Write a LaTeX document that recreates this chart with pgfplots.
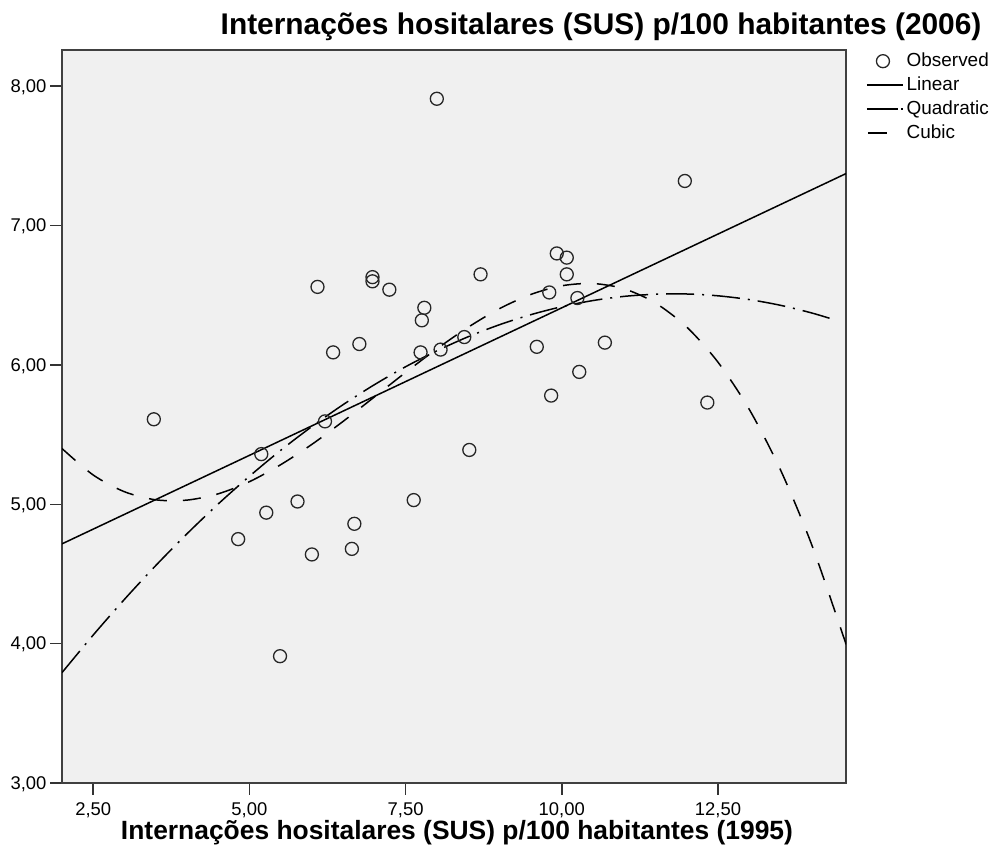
\documentclass[border=0pt]{standalone}
\usepackage{pgfplots}
\pgfplotsset{compat=1.18}
\usepackage{fontspec}
\setmainfont{Liberation Sans}
\definecolor{plotbg}{HTML}{F0F0F0}
\pgfplotsset{
 obsleg/.style={legend image code/.code={\draw[##1] plot coordinates {(16bp,0bp)};}},
 linleg/.style={legend image code/.code={\draw[##1] (0bp,0bp) -- (36bp,0bp);}},
 quadleg/.style={legend image code/.code={\draw[##1, dash pattern=on 31bp off 3bp on 2bp off 20bp] (0bp,0bp) -- (36bp,0bp);}},
 cubleg/.style={legend image code/.code={\draw[##1, solid] (1bp,0bp) -- (20bp,0bp);}},
}
\begin{document}
\begin{tikzpicture}[x=1bp,y=1bp]
\path[use as bounding box] (0,0) rectangle (997,865);
\begin{axis}[
 at={(62bp,82bp)}, anchor=south west,
 scale only axis, width=784bp, height=733bp,
 xmin=2, xmax=14.55, ymin=3, ymax=8.26,
 xtick={2.5,5,7.5,10,12.5}, ytick={3,4,5,6,7,8},
 xtick pos=left, ytick pos=left,
 tick align=outside, major tick length=12bp,
 tick style={black!80, line width=1.5bp},
 axis line style={black!75, line width=1.3bp},
 axis background/.style={fill=plotbg},
 xticklabel style={yshift=-4bp, /pgf/number format/.cd, fixed, fixed zerofill, precision=2, use comma, assume math mode=true},
 yticklabel style={yshift=-1bp, /pgf/number format/.cd, fixed, fixed zerofill, precision=2, use comma, assume math mode=true},
 tick label style={font=\fontsize{18.5}{20}\selectfont},
 legend style={at={(1,1)}, anchor=north west, xshift=20bp, yshift=-1bp, draw=none, fill=none, inner sep=0pt,
   font=\fontsize{19}{21}\selectfont, row sep=4bp, column sep=2bp,
   nodes={inner sep=1bp, text height=14bp, text depth=4bp}},
 legend cell align=left,
]
\addplot[only marks, mark=o, mark size=6.5bp, black!85, line width=1.3bp, obsleg] coordinates {
(3.47,5.61) (4.82,4.75) (5.19,5.36) (5.27,4.94) (5.49,3.91) (5.77,5.02)
(6.00,4.64) (6.09,6.56) (6.21,5.595) (6.34,6.09) (6.64,4.68) (6.68,4.86)
(6.76,6.15) (6.97,6.63) (6.97,6.60) (7.24,6.54) (7.63,5.03) (7.74,6.09)
(7.76,6.32) (7.80,6.41) (8.00,7.91) (8.06,6.11) (8.44,6.20) (8.52,5.39)
(8.70,6.65) (9.60,6.13) (9.80,6.52) (9.83,5.78) (9.92,6.80) (10.08,6.77)
(10.08,6.65) (10.25,6.48) (10.28,5.95) (10.69,6.16) (11.97,7.32) (12.33,5.73)
};
\addlegendentry{Observed}
\addplot[black, line width=1.5bp, linleg] coordinates {
(2.0,4.716) (14.55,7.373)
};
\addlegendentry{Linear}
\addplot[black, line width=1.5bp, smooth, dash pattern=on 28bp off 8bp on 2bp off 8bp, quadleg] coordinates {
(2.0,3.792) (2.5,4.062) (3.0,4.318) (3.5,4.560) (4.0,4.788) (4.5,5.002)
(5.0,5.201) (5.5,5.387) (6.0,5.558) (6.5,5.715) (7.0,5.858) (7.5,5.987)
(8.0,6.101) (8.5,6.202) (9.0,6.288) (9.5,6.360) (10.0,6.418) (10.5,6.462)
(11.0,6.492) (11.5,6.507) (12.0,6.509) (12.5,6.496) (13.0,6.469) (13.5,6.428)
(14.0,6.373) (14.4,6.319)
};
\addlegendentry{Quadratic}
\addplot[black, line width=1.5bp, smooth, dash pattern=on 18bp off 16bp, cubleg] coordinates {
(2.0,5.400) (2.5,5.210) (3.0,5.090) (3.5,5.032) (4.0,5.030) (4.5,5.075)
(5.0,5.162) (5.5,5.284) (6.0,5.430) (6.5,5.595) (7.0,5.770) (7.5,5.946)
(8.0,6.115) (8.5,6.270) (9.0,6.403) (9.5,6.505) (10.0,6.568) (10.5,6.584)
(11.0,6.546) (11.5,6.444) (12.0,6.272) (12.5,6.020) (13.0,5.682) (13.5,5.248)
(14.0,4.711) (14.5,4.063) (14.55,3.992)
};
\addlegendentry{Cubic}
\end{axis}
\node[anchor=base east, font=\bfseries\fontsize{30}{32}\selectfont] at (985,830) {Internações hositalares (SUS) p/100 habitantes (2006)};
\node[anchor=base, font=\bfseries\fontsize{26.5}{28}\selectfont] at (457,25) {Internações hositalares (SUS) p/100 habitantes (1995)};
\end{tikzpicture}
\end{document}
